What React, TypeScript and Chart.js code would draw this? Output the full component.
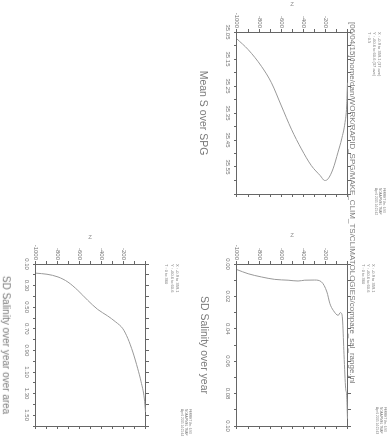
import React, { useEffect, useRef } from "react";
import { Chart, registerables } from "chart.js";
Chart.register(...registerables);

const FONT = "'Liberation Sans', Arial, sans-serif";
const INK = "#666666";
const TEXT = "#7a7a7a";
const CURVE = "#999999";

// depth axis (Z), shared by all panels
const depthMin = -1000;
const depthMax = 0;
const depthStep = 100;
const depthLabels = [-1000, -800, -600, -400, -200];

// Panel 1: Mean S over SPG
const meanSDepth = [-1000, -900, -780, -690, -600, -510, -420, -330, -250, -210, -180, -135, -90, -57, -27, -12, -5];
const meanS = [35.076, 35.115, 35.177, 35.238, 35.324, 35.41, 35.483, 35.545, 35.582, 35.6, 35.594, 35.557, 35.495, 35.446, 35.385, 35.324, 35.238];
const meanSRange = [35.05, 35.65];
const meanSStep = 0.05;
const meanSLabels = [35.05, 35.15, 35.25, 35.35, 35.45, 35.55];

// Panel 2: SD Salinity over year
const sdYearDepth = [-1000, -900, -780, -660, -540, -450, -390, -300, -240, -190, -163, -133, -88, -70, -55, -48, -36, -21, -12, -5];
const sdYear = [0.0035, 0.006, 0.008, 0.0095, 0.01, 0.0105, 0.01, 0.0099, 0.011, 0.0173, 0.0245, 0.0286, 0.0317, 0.03, 0.031, 0.0358, 0.056, 0.077, 0.081, 0.0955];
const sdYearRange = [0.0, 0.1];
const sdYearStep = 0.01;
const sdYearLabels = [0.0, 0.02, 0.04, 0.06, 0.08, 0.1];

// Panel 3: SD Salinity over year over area
const sdAreaDepth = [-1000, -900, -800, -710, -620, -530, -440, -350, -275, -210, -165, -120, -75, -45, -15, -5];
const sdArea = [0.185, 0.195, 0.22, 0.267, 0.344, 0.436, 0.52, 0.58, 0.637, 0.7, 0.79, 0.915, 1.07, 1.19, 1.35, 1.47];
const sdAreaRange = [0.1, 1.6];
const sdAreaStep = 0.1;
const sdAreaLabels = [0.1, 0.3, 0.5, 0.7, 0.9, 1.1, 1.3, 1.5];

const PAGE_W = 443;
const PAGE_H = 388;

type Box = { left: number; top: number; right: number; bottom: number };

function stepTicks(min: number, max: number, step: number) {
  const out: { value: number }[] = [];
  const n = Math.round((max - min) / step);
  for (let i = 0; i <= n; i++) out.push({ value: Math.round((min + i * step) * 1e6) / 1e6 });
  return out;
}

function Panel(props: {
  depth: number[];
  values: number[];
  range: number[];
  step: number;
  labels: number[];
  box: Box;
}) {
  const ref = useRef<HTMLCanvasElement>(null);
  useEffect(() => {
    const { depth, values, range, step, labels, box } = props;
    const grid = { display: true, drawOnChartArea: false, drawTicks: true, tickLength: 3, color: INK, lineWidth: 1 };
    const border = { display: true, color: INK, width: 1 };
    const has = (list: number[], v: number) => list.some((l) => Math.abs(l - v) < 1e-7);
    const xTicks = (s: any) => { s.ticks = stepTicks(range[0], range[1], step); };
    const yTicks = (s: any) => { s.ticks = stepTicks(depthMin, depthMax, depthStep); };
    const tickFont = { family: FONT, size: 6 };
    const chart = new Chart(ref.current as HTMLCanvasElement, {
      type: "line",
      data: {
        datasets: [
          {
            data: depth.map((d, i) => ({ x: values[i], y: d })),
            borderColor: CURVE,
            borderWidth: 1,
            pointRadius: 0,
            fill: false,
            cubicInterpolationMode: "monotone",
          } as any,
        ],
      },
      options: {
        animation: false,
        responsive: false,
        indexAxis: "y",
        events: [],
        layout: { padding: 0 },
        plugins: { legend: { display: false }, tooltip: { enabled: false }, title: { display: false } },
        scales: {
          x: {
            type: "linear", position: "bottom", min: range[0], max: range[1],
            grid, border,
            afterBuildTicks: xTicks,
            afterFit: (s: any) => { s.height = PAGE_H - box.bottom; },
            ticks: {
              autoSkip: false, maxRotation: 0, minRotation: 0, padding: 3, color: TEXT, font: tickFont,
              callback: (v: any) => (has(labels, Number(v)) ? Number(v).toFixed(2) : ""),
            },
          },
          x2: {
            type: "linear", position: "top", min: range[0], max: range[1],
            grid, border,
            afterBuildTicks: xTicks,
            afterFit: (s: any) => { s.height = box.top; },
            ticks: { autoSkip: false, maxRotation: 0, font: tickFont, callback: () => "" },
          },
          y: {
            type: "linear", position: "left", min: depthMin, max: depthMax,
            grid, border,
            afterBuildTicks: yTicks,
            afterFit: (s: any) => { s.width = box.left; },
            ticks: {
              autoSkip: false, padding: 1, color: TEXT, font: tickFont,
              callback: (v: any) => (depthLabels.includes(Number(v)) ? String(v) : ""),
            },
          },
          y2: {
            type: "linear", position: "right", min: depthMin, max: depthMax,
            grid, border,
            afterBuildTicks: yTicks,
            afterFit: (s: any) => { s.width = PAGE_W - box.right; },
            ticks: { autoSkip: false, font: tickFont, callback: () => "" },
          },
        } as any,
      },
    });
    return () => chart.destroy();
  }, []);
  return (
    <canvas
      ref={ref}
      width={PAGE_W}
      height={PAGE_H}
      style={{ position: "absolute", left: 0, top: 0, width: PAGE_W, height: PAGE_H }}
    />
  );
}

function Txt(props: { x: number; y: number; size: number; text: string; anchor?: number; rotate?: number; color?: string }) {
  const { x, y, size, text, anchor = 0, rotate = 0, color = TEXT } = props;
  const base = 12;
  const s = size / base;
  return (
    <span style={{ position: "absolute", left: x, top: y, width: 0, height: 0 }}>
      <span
        style={{
          position: "absolute", left: 0, top: 0, whiteSpace: "nowrap",
          fontFamily: FONT, fontSize: base, lineHeight: 1, color,
          transformOrigin: "0 0",
          transform: `rotate(${rotate}deg) scale(${s}) translate(${-anchor * 100}%, -50%)`,
        }}
      >
        {text}
      </span>
    </span>
  );
}

const boxA: Box = { left: 32, top: 40, right: 194, bottom: 151 };
const boxB: Box = { left: 264, top: 40, right: 426, bottom: 151 };
const boxC: Box = { left: 264, top: 242, right: 426, bottom: 352 };

export default function App() {
  return (
    <div style={{ position: "fixed", left: 0, top: 0, width: 388, height: 443, overflow: "hidden", background: "#fff" }}>
      <div
        style={{
          position: "absolute", left: 0, top: 0, width: PAGE_W, height: PAGE_H,
          transformOrigin: "0 0", transform: "translate(388px, 0px) rotate(90deg)",
        }}
      >
        <Panel depth={meanSDepth} values={meanS} range={meanSRange} step={meanSStep} labels={meanSLabels} box={boxA} />
        <Panel depth={sdYearDepth} values={sdYear} range={sdYearRange} step={sdYearStep} labels={sdYearLabels} box={boxB} />
        <Panel depth={sdAreaDepth} values={sdArea} range={sdAreaRange} step={sdAreaStep} labels={sdAreaLabels} box={boxC} />

        <Txt x={21.7} y={34.5} size={8} text="[06/04/15]/home/dan/WORK/RAPID_SPG/MAKE_CLIM_TS/CLIMATOLOGIES/compare_sal_range.jnl" />

        <Txt x={113} y={184} size={10.5} anchor={0.5} text="Mean S over SPG" />
        <Txt x={345} y={183} size={10.5} anchor={0.5} text="SD Salinity over year" />
        <Txt x={345} y={382} size={10} anchor={0.5} text="SD Salinity over year over area" />

        <Txt x={4} y={96} size={6} anchor={0.5} rotate={-90} text="Z" />
        <Txt x={235} y={96} size={6} anchor={0.5} rotate={-90} text="Z" />
        <Txt x={237} y={298} size={6} anchor={0.5} rotate={-90} text="Z" />

        <Txt x={32} y={9.3} size={4} text="X : -0.9 to 359.1 (37 ave)" />
        <Txt x={32} y={14} size={4} text="Y : -60.6 to 60.6 (37 ave)" />
        <Txt x={32} y={18.5} size={4} text="T : 0.5" />

        <Txt x={264} y={14.5} size={4} text="X : -0.9 to 359.1" />
        <Txt x={264} y={19.5} size={4} text="Y : -60.6 to 60.6" />
        <Txt x={264} y={24.5} size={4} text="T : 0 to 360" />

        <Txt x={264} y={210.7} size={4} text="X : -0.9 to 359.1" />
        <Txt x={264} y={216.3} size={4} text="Y : -60.6 to 60.6" />
        <Txt x={264} y={222} size={4} text="T : 0 to 360" />

        <Txt x={188} y={4} size={3} text="FERRET Ver. 6.93" />
        <Txt x={188} y={8} size={3} text="NOAA/PMEL TMAP" />
        <Txt x={188} y={12} size={3} text="Apr 6 2015 14:21:42" />

        <Txt x={407} y={3} size={3} text="FERRET Ver. 6.93" />
        <Txt x={407} y={7} size={3} text="NOAA/PMEL TMAP" />
        <Txt x={407} y={11} size={3} text="Apr 6 2015 14:21:43" />

        <Txt x={409} y={198} size={3} text="FERRET Ver. 6.93" />
        <Txt x={409} y={202} size={3} text="NOAA/PMEL TMAP" />
        <Txt x={409} y={206} size={3} text="Apr 6 2015 14:21:44" />
      </div>
    </div>
  );
}
